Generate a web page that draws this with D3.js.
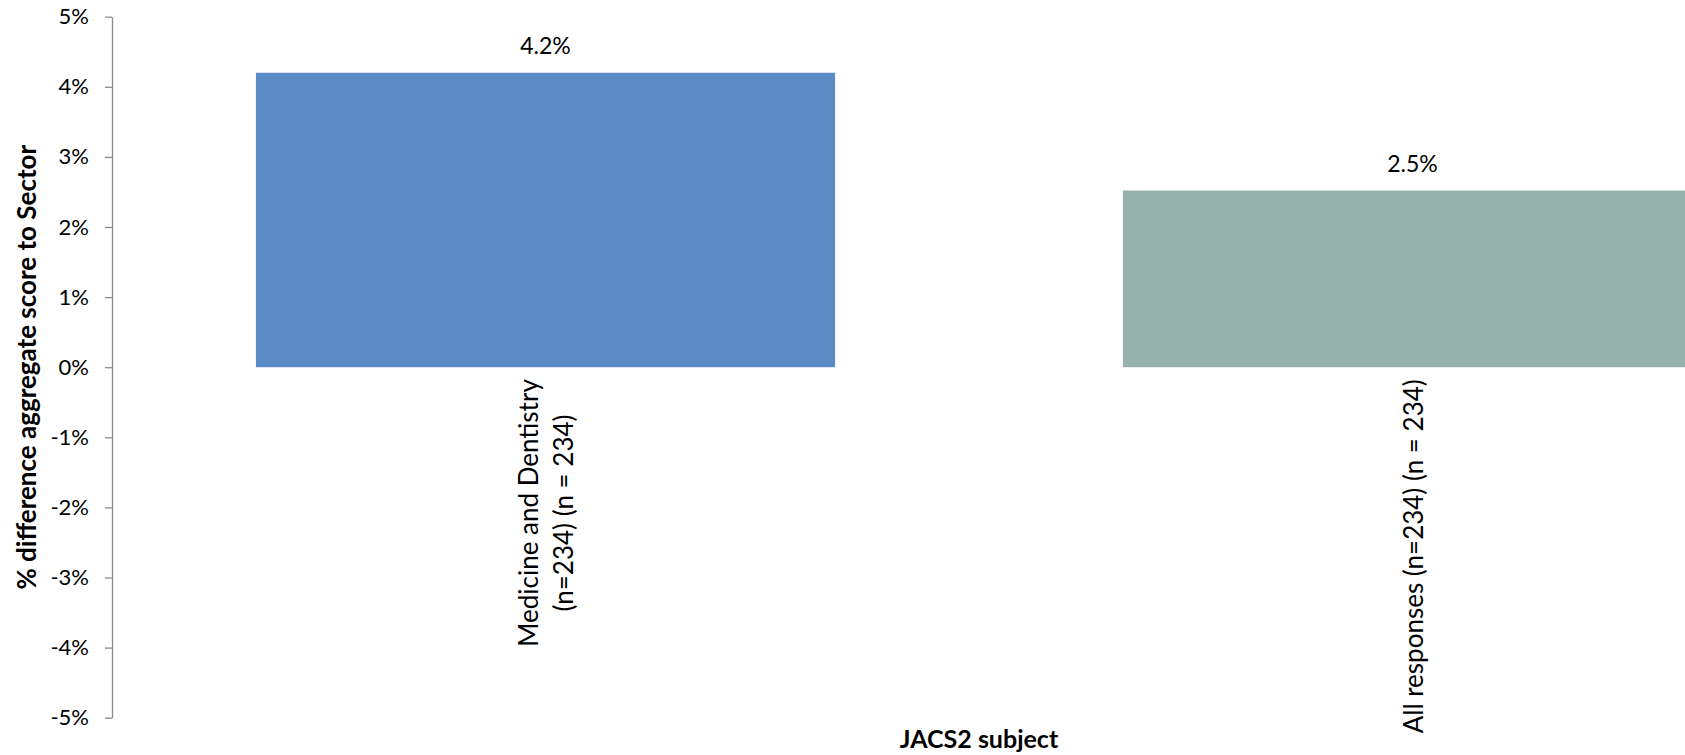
<!DOCTYPE html>
<html>
<head>
<meta charset="utf-8">
<script src="https://cdn.jsdelivr.net/npm/d3@7"></script>
<style>
  html, body { margin: 0; padding: 0; background: #fff; }
  svg { display: block; font-family: Lato, "Open Sans", sans-serif; }
</style>
</head>
<body>
<svg id="chart" width="1685" height="755"></svg>
<script>
// ---- data ----
const categories = ["Medicine and Dentistry (n=234) (n = 234)", "All responses (n=234) (n = 234)"];
const categoryLines = [["Medicine and Dentistry", "(n=234) (n = 234)"], ["All responses (n=234) (n = 234)"]];
const values = [0.042, 0.0252];
const valueLabels = ["4.2%", "2.5%"];
const barColors = ["#5B8AC5", "#97B1AC"];
const yTicks = [-0.05, -0.04, -0.03, -0.02, -0.01, 0, 0.01, 0.02, 0.03, 0.04, 0.05];
const yTitle = "% difference aggregate score to Sector";
const xTitle = "JACS2 subject";

(function () {
// ---- layout ----
const svg = d3.select("#chart");
const axisX = 112, plotTop = 16.7, plotBottom = 717.7;
const step = 867;

const y = d3.scaleLinear().domain([-0.05, 0.05]).range([plotBottom, plotTop]);
const x = d3.scaleBand().domain(categories)
  .range([axisX, axisX + step * categories.length])
  .paddingInner(0.332).paddingOuter(0.166);

// bars
svg.append("g").selectAll("rect").data(values).join("rect")
  .attr("x", (d, i) => x(categories[i]))
  .attr("width", x.bandwidth())
  .attr("y", d => y(Math.max(0, d)))
  .attr("height", d => Math.abs(y(d) - y(0)))
  .attr("fill", (d, i) => barColors[i]);

// value labels
svg.append("g").selectAll("text").data(values).join("text")
  .attr("x", (d, i) => x(categories[i]) + x.bandwidth() / 2)
  .attr("y", d => y(d) - 19)
  .attr("text-anchor", "middle")
  .attr("font-size", 23)
  .attr("fill", "#000")
  .text((d, i) => valueLabels[i]);

// y axis
const yAxis = d3.axisLeft(y).tickValues(yTicks)
  .tickFormat(d => d3.format(".0%")(d).replace("−", "-"))
  .tickSize(7).tickSizeOuter(0).tickPadding(16);
const gy = svg.append("g").attr("transform", `translate(${axisX},0)`).call(yAxis);
gy.select(".domain").attr("stroke", "#8a8a8a").attr("stroke-width", 1.3);
gy.selectAll(".tick line").attr("stroke", "#8a8a8a").attr("stroke-width", 1.3);
gy.selectAll(".tick text").attr("font-size", 22).attr("fill", "#000")
  .attr("font-family", "Lato, 'Open Sans', sans-serif");

// category labels (rotated, top end near the zero line)
const lineGap = 35;
categories.forEach((c, i) => {
  const cx = x(c) + x.bandwidth() / 2;
  const lines = categoryLines[i];
  const g = svg.append("g").attr("transform", `translate(${cx},${y(0) + 12}) rotate(-90)`);
  const texts = lines.map((ln, j) => g.append("text")
    .attr("font-size", 26).attr("fill", "#000")
    .attr("y", (j - (lines.length - 1) / 2) * lineGap + 10)
    .text(ln));
  const maxLen = d3.max(texts, t => t.node().getComputedTextLength());
  texts.forEach(t => t.attr("x", -maxLen / 2).attr("text-anchor", "middle"));
});

// axis titles
svg.append("text")
  .attr("transform", `translate(36,${(plotTop + plotBottom) / 2}) rotate(-90)`)
  .attr("text-anchor", "middle")
  .attr("font-size", 26).attr("font-weight", "bold").attr("fill", "#000")
  .text(yTitle);

svg.append("text")
  .attr("x", 979).attr("y", 748)
  .attr("text-anchor", "middle")
  .attr("font-size", 25).attr("font-weight", "bold").attr("fill", "#000")
  .text(xTitle);
})();
</script>
</body>
</html>
